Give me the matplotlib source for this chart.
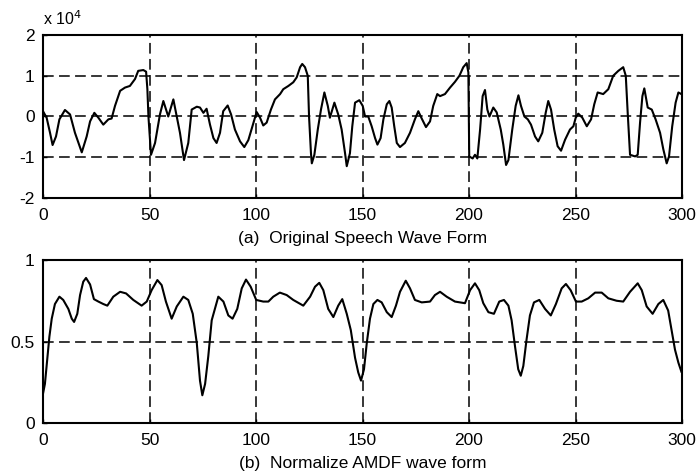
import matplotlib.pyplot as plt

# (a) original speech wave form, values in units of 1e4
speech_x = [0, 1.7, 3.3, 4.5, 6.1, 7.7, 10.3, 12.7, 15, 18.2, 20.5, 22.1, 24.1, 26,
            28.3, 30.7, 32.2, 33.8, 36.2, 38.5, 40.8, 43.2, 44.7, 47.1, 48.4, 49,
            49.5, 50.7, 52.6, 54.9, 56.5, 58.8, 61.2, 62.8, 64.3, 66.2, 68.2, 69.8,
            72.2, 73.7, 75.3, 76.8, 78.4, 80, 81.5, 83.1, 84.6, 86.7, 88.3, 90.1,
            92.5, 94.5, 96.4, 98.3, 100.3, 101.9, 103.4, 105, 107, 108.9, 111.3,
            112.8, 115.2, 117.5, 119.1, 120.7, 121.7, 123, 124.3, 124.9, 125.8,
            126.2, 127.4, 129, 130.5, 132.1, 133.7, 134.7, 136.8, 138.6, 140.2,
            141.8, 142.6, 144.1, 145.2, 146.5, 148.5, 150.1, 151.2, 152.7, 154.3,
            155.9, 157, 158.5, 159.8, 161.4, 162.6, 163.7, 164.9, 166.1, 167.6,
            169.9, 172.3, 174.6, 176.2, 177.8, 179.8, 181.7, 183.2, 185.1, 186.4,
            188.7, 191.1, 193.4, 195.5, 197.3, 198.9, 199.7, 200.1, 201.7, 202.8,
            203.9, 205.2, 206.4, 207.5, 208.6, 209.6, 211.4, 213, 214.9, 216.1,
            217.4, 218.5, 220.3, 221.9, 223.2, 224.4, 226, 227.6, 229.1, 231,
            232.5, 234.4, 236, 237.2, 238.5, 240, 241.6, 243.2, 245.1, 247.4, 249,
            250.1, 251.3, 253.2, 255.3, 257.3, 258.8, 260.4, 263, 265.4, 267.7,
            270.1, 272.4, 273.6, 274.5, 275.6, 278, 279.2, 280.3, 281.4, 282.3,
            283.9, 285.8, 287.6, 289.7, 291.2, 292.8, 293.9, 295.4, 297, 298.3,
            299.7]
speech_y = [0.13, -0.03, -0.4, -0.7, -0.49, -0.07, 0.16, 0.05, -0.4, -0.88, -0.49,
            -0.12, 0.09, -0.03, -0.2, -0.07, -0.05, 0.26, 0.63, 0.71, 0.75, 0.92,
            1.12, 1.14, 1.1, 0.67, 0.0, -0.94, -0.65, 0.05, 0.38, 0.0, 0.42, 0.0,
            -0.4, -1.07, -0.65, 0.17, 0.24, 0.22, 0.09, 0.19, -0.2, -0.53, -0.65,
            -0.4, 0.13, 0.27, 0.05, -0.32, -0.61, -0.75, -0.58, -0.24, 0.11, -0.03,
            -0.22, -0.15, 0.17, 0.42, 0.55, 0.67, 0.75, 0.84, 0.96, 1.21, 1.29,
            1.21, 1.0, 0.0, -0.9, -1.15, -0.94, -0.32, 0.17, 0.59, 0.26, -0.03, 0.34,
            0.05, -0.32, -0.9, -1.22, -0.9, -0.24, 0.34, 0.4, 0.26, 0.0, 0.0, -0.24,
            -0.53, -0.69, -0.53, -0.07, 0.3, 0.38, 0.22, -0.24, -0.65, -0.75, -0.65,
            -0.4, -0.07, 0.13, -0.05, -0.26, -0.12, 0.26, 0.55, 0.5, 0.55, 0.71, 0.85,
            1.0, 1.21, 1.31, 1.08, -0.98, -1.03, -0.94, -1.03, -0.32, 0.5, 0.65, 0.17,
            0.0, 0.22, 0.1, -0.32, -0.69, -1.19, -1.07, -0.32, 0.26, 0.52, 0.26, 0.0,
            -0.07, -0.2, -0.49, -0.61, -0.4, 0.09, 0.38, 0.17, -0.32, -0.73, -0.84,
            -0.57, -0.32, -0.24, -0.03, 0.07, -0.03, -0.24, -0.07, 0.3, 0.59, 0.55,
            0.67, 1.0, 1.12, 1.21, 1.0, 0.09, -0.94, -0.98, -0.94, -0.15, 0.5, 0.69,
            0.22, 0.17, -0.07, -0.4, -0.8, -1.15, -0.98, -0.24, 0.34, 0.59, 0.55]

# (b) normalized AMDF
amdf_x = [0, 0.9, 2, 3, 4.1, 5.6, 7.7, 9.5, 11.9, 13.5, 14.6, 16.1, 17.4, 18.9, 20.2,
          22.1, 23.9, 26, 28.3, 30.2, 33, 36.2, 39, 42.4, 46.3, 48.7, 51, 53.7, 55.7,
          57.7, 60.4, 62.8, 65.9, 68.2, 70.3, 72.2, 73.7, 74.8, 76.1, 77.6, 79.2,
          82.3, 84.7, 87, 89, 91.2, 93.3, 95.3, 97.5, 100.1, 103.4, 105.8, 108.1,
          111.2, 114.4, 117.5, 122.2, 125.4, 127.7, 129.7, 131.6, 133.9, 136.3,
          138.6, 140.5, 142.6, 144.5, 146.5, 148, 149.3, 150.7, 152, 153.5, 155.1,
          157, 159, 161.4, 163.7, 165.7, 167.6, 170.3, 172.3, 174.6, 177.8, 181.7,
          184, 186.4, 189.5, 193.4, 198.1, 200.5, 202.8, 204.8, 206.7, 209.1, 211.7,
          214.2, 216.4, 218.5, 220, 221.6, 223.1, 224.3, 225.5, 227, 228.6, 230.5,
          233, 235.7, 238.4, 240.8, 243.5, 245.5, 247.7, 250.2, 252.9, 256, 259.2,
          262.3, 265.4, 269.3, 272.4, 275.6, 279.2, 281.1, 283.4, 286.2, 288.9,
          291.2, 293.5, 295.1, 296.7, 298.3, 299.7]
amdf_y = [0.18, 0.24, 0.39, 0.53, 0.64, 0.73, 0.775, 0.755, 0.7, 0.64, 0.62, 0.67,
          0.785, 0.867, 0.89, 0.85, 0.76, 0.745, 0.73, 0.72, 0.775, 0.805, 0.795,
          0.755, 0.72, 0.745, 0.815, 0.877, 0.846, 0.745, 0.64, 0.715, 0.775, 0.755,
          0.67, 0.49, 0.26, 0.17, 0.24, 0.41, 0.63, 0.775, 0.745, 0.66, 0.64, 0.7,
          0.826, 0.88, 0.836, 0.755, 0.745, 0.745, 0.775, 0.8, 0.785, 0.755, 0.72,
          0.775, 0.836, 0.86, 0.815, 0.7, 0.65, 0.72, 0.76, 0.67, 0.57, 0.4, 0.31,
          0.26, 0.33, 0.49, 0.64, 0.73, 0.755, 0.74, 0.68, 0.65, 0.72, 0.805, 0.873,
          0.826, 0.755, 0.74, 0.745, 0.785, 0.805, 0.775, 0.745, 0.735, 0.815, 0.857,
          0.815, 0.735, 0.68, 0.67, 0.745, 0.755, 0.72, 0.63, 0.47, 0.33, 0.29, 0.35,
          0.51, 0.66, 0.74, 0.755, 0.7, 0.66, 0.73, 0.826, 0.853, 0.815, 0.745,
          0.745, 0.765, 0.8, 0.8, 0.765, 0.75, 0.745, 0.805, 0.857, 0.815, 0.715,
          0.67, 0.73, 0.755, 0.69, 0.57, 0.45, 0.37, 0.315]

x_ticks = [0, 50, 100, 150, 200, 250, 300]
top_yticks = [-2, -1, 0, 1, 2]
bot_yticks = [0, 0.5, 1]
top_title = '(a)  Original Speech Wave Form'
bot_title = '(b)  Normalize AMDF wave form'

plt.rcParams['font.family'] = ['Liberation Sans', 'DejaVu Sans']

fig = plt.figure(figsize=(6.97, 4.75), dpi=100)
ax1 = fig.add_axes([0.0617, 0.5832, 0.9168, 0.3431])
ax2 = fig.add_axes([0.0617, 0.1095, 0.9168, 0.3431])

grid_style = dict(color='black', linestyle=(0, (7, 3.5)), linewidth=1.1)

for ax, xs, ys, yt, ttl, ylim in [(ax1, speech_x, speech_y, top_yticks, top_title, (-2, 2)),
                                  (ax2, amdf_x, amdf_y, bot_yticks, bot_title, (0, 1))]:
    ax.plot(xs, ys, color='black', linewidth=1.5)
    ax.set_xlim(0, 300)
    ax.set_ylim(*ylim)
    ax.set_xticks(x_ticks)
    ax.set_yticks(yt)
    ax.set_yticklabels([('%g' % v) for v in yt])
    ax.grid(True, **grid_style)
    ax.tick_params(direction='in', length=3, width=1, pad=6, labelsize=12.5)
    ax.tick_params(axis='x', pad=7)
    for s in ax.spines.values():
        s.set_linewidth(1.5)
    ax.set_xlabel(ttl, fontsize=12.5, labelpad=6)

ax1.text(0.0, 1.045, r'x 10$^4$', transform=ax1.transAxes, fontsize=11.5,
         ha='left', va='bottom')

fig.savefig('out.png', dpi=100)
